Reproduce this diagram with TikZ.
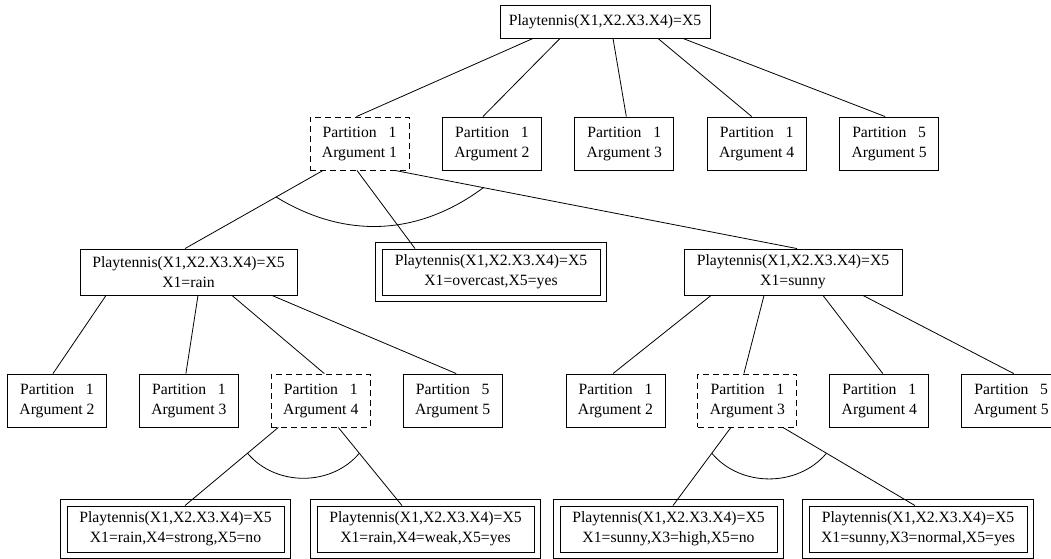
\documentclass[tikz,border=0pt]{standalone}
\usepackage{fontspec}
\setmainfont{Liberation Serif}
\usepackage{tikz}
\usetikzlibrary{fit, positioning}
\tikzset{
    every node/.style={ font=\fontsize{15.7pt}{20pt}\selectfont },
    link/.style={ draw=black, line width=0.8pt },
    % Partition / argument boxes
    argbox/.style={ rectangle, draw=black, line width=0.9pt, minimum width=99pt, minimum height=53pt, inner sep=2pt, align=center },
    picked/.style={ argbox, dash pattern=on 6pt off 4pt },
    % Goal boxes (Playtennis)
    goalbox/.style={ rectangle, draw=black, line width=0.9pt, minimum width=218pt, minimum height=46pt, inner sep=2pt, align=center },
    leafframe/.style={ rectangle, draw=black, line width=0.9pt, inner sep=6pt },
}

\begin{document}
\begin{tikzpicture}[x=1pt, y=-1pt]
    \useasboundingbox (0,0) rectangle (1051,558);

    % Goal and its partitions
    \node[goalbox, minimum width=210pt, minimum height=33pt] (root) at (605,21.5) {Playtennis(X1,X2.X3.X4)=X5};
    \node[picked] (part-1) at (359.5,143.5) {Partition~~~1\\Argument 1};
    \node[argbox, right=32.5pt of part-1] (part-2) {Partition~~~1\\Argument 2};
    \node[argbox, right=32.5pt of part-2] (part-3) {Partition~~~1\\Argument 3};
    \node[argbox, right=32.5pt of part-3] (part-4) {Partition~~~1\\Argument 4};
    \node[argbox, right=32.5pt of part-4] (part-5) {Partition~~~5\\Argument 5};

    % Splitting on X1
    \node[goalbox, minimum width=217pt] (rain) at (188.5,272) {Playtennis(X1,X2.X3.X4)=X5\\X1=rain};
    \node[goalbox] (overcast) at (491,272) {Playtennis(X1,X2.X3.X4)=X5\\X1=overcast,X5=yes};
    \node[leafframe, fit=(overcast)] (overcast-frame) {};
    \node[goalbox] (sunny) at (793,272) {Playtennis(X1,X2.X3.X4)=X5\\X1=sunny};

    % Partitions below rain and sunny
    \node[argbox] (rain-2) at (57,400.5) {Partition~~~1\\Argument 2};
    \node[argbox, right=32pt of rain-2] (rain-3) {Partition~~~1\\Argument 3};
    \node[picked, right=32pt of rain-3] (rain-4) {Partition~~~1\\Argument 4};
    \node[argbox, right=32pt of rain-4] (rain-5) {Partition~~~5\\Argument 5};
    \node[argbox] (sunny-2) at (615.5,400.5) {Partition~~~1\\Argument 2};
    \node[picked, right=32pt of sunny-2] (sunny-3) {Partition~~~1\\Argument 3};
    \node[argbox, right=32pt of sunny-3] (sunny-4) {Partition~~~1\\Argument 4};
    \node[argbox, right=32pt of sunny-4] (sunny-5) {Partition~~~5\\Argument 5};

    % Leaves
    \node[goalbox, minimum width=217pt] (strong) at (175.5,529) {Playtennis(X1,X2.X3.X4)=X5\\X1=rain,X4=strong,X5=no};
    \node[goalbox, minimum width=217pt] (weak) at (425.5,529) {Playtennis(X1,X2.X3.X4)=X5\\X1=rain,X4=weak,X5=yes};
    \node[goalbox, minimum width=217pt] (high) at (668.5,529) {Playtennis(X1,X2.X3.X4)=X5\\X1=sunny,X3=high,X5=no};
    \node[goalbox] (normal) at (918,529) {Playtennis(X1,X2.X3.X4)=X5\\X1=sunny,X3=normal,X5=yes};
    \foreach \leaf in {strong, weak, high, normal}
        \node[leafframe, fit=(\leaf)] (\leaf-frame) {};

    % Plain links
    \foreach \a/\sa/\b/\sb in {root/-72/part-1/-3, root/-45/part-2/-9, root/8/part-3/2, root/53/part-4/-5, root/78/part-5/-4,
        part-1/-2.5/overcast/-76,
        rain/-82.5/rain-2/-4, rain/9.5/rain-3/-3, rain/43.5/rain-4/3.5, rain/83.5/rain-5/3.5,
        sunny/-82/sunny-2/-2.5, sunny/-29/sunny-3/-3.5, sunny/30/sunny-4/3.5, sunny/70/sunny-5/2.5}
        \draw[link] ([xshift=\sa pt]\a.south) -- ([xshift=\sb pt]\b.north);

    % Links joined by an arc
    \draw[link] ([xshift=-36.5pt]part-1.south) -- coordinate[pos=0.34] (and-1a) ([xshift=-3.5pt]rain.north);
    \draw[link] ([xshift=35.5pt]part-1.south) -- coordinate[pos=0.22] (and-1b) ([xshift=4pt]sunny.north);
    \draw[link] (and-1a) to[bend right=34] (and-1b);

    \draw[link] ([xshift=-42.5pt]rain-4.south) -- coordinate[pos=0.33] (and-2a) ([xshift=9.5pt]strong.north);
    \draw[link] ([xshift=17.5pt]rain-4.south) -- coordinate[pos=0.33] (and-2b) ([xshift=-23.5pt]weak.north);
    \draw[link] (and-2a) to[bend right=50] (and-2b);

    \draw[link] ([xshift=-16.5pt]sunny-3.south) -- coordinate[pos=0.33] (and-3a) ([xshift=4.5pt]high.north);
    \draw[link] ([xshift=35.5pt]sunny-3.south) -- coordinate[pos=0.33] (and-3b) ([xshift=-3pt]normal.north);
    \draw[link] (and-3a) to[bend right=50] (and-3b);
\end{tikzpicture}
\end{document}
